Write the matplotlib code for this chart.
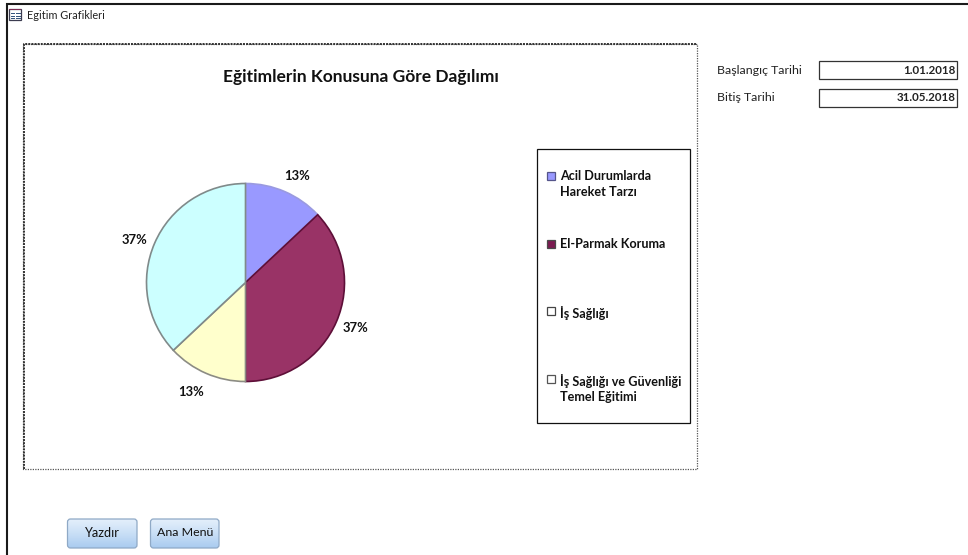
import numpy as np
import matplotlib
matplotlib.use("Agg")
import matplotlib.pyplot as plt
from matplotlib.patches import Rectangle, FancyBboxPatch
from matplotlib.colors import LinearSegmentedColormap

plt.rcParams['font.family'] = ['Lato', 'Open Sans', 'DejaVu Sans']

# chart data
topics = ["Acil Durumlarda\nHareket Tarzı", "El-Parmak Koruma", "İş Sağlığı",
          "İş Sağlığı ve Güvenliği\nTemel Eğitimi"]
shares = [13, 37, 13, 37]
slice_colors = ["#9999ff", "#993366", "#ffffcc", "#ccffff"]
edge_colors = ["#9a9ae0", "#5e0f38", "#8c8c84", "#808a8a"]
swatch_colors = ["#9999ff", "#7a1a50", "#ffffff", "#ffffff"]
swatch_edges = ["#55558a", "#4a4a4a", "#444444", "#555555"]

window_title = "Egitim Grafikleri"
chart_title = "Eğitimlerin Konusuna Göre Dağılımı"
date_labels = ["Başlangıç Tarihi", "Bitiş Tarihi"]
date_values = ["1.01.2018", "31.05.2018"]
button_labels = ["Yazdır", "Ana Menü"]

W, H = 968, 555
fig = plt.figure(figsize=(W / 100, H / 100), dpi=100, facecolor="white")

# full size axes in pixel units for the form controls
bg = fig.add_axes([0, 0, 1, 1])
bg.set_axis_off()

# window border
bg.plot([7, 7, W], [H, 3.5, 3.5], color="#1a1a1a", lw=1.5, solid_joinstyle="miter")

# small form icon
bg.add_patch(Rectangle((9, 9), 12, 11, fc="white", ec="#3c3c50", lw=0.9))
bg.add_patch(Rectangle((9, 8.5), 12, 1.5, fc="#7a2a50", ec="none"))
for yy in (13, 15.5, 18):
    bg.plot([11, 14], [yy, yy], color="#30507a", lw=0.7)
    bg.plot([15.5, 19.5], [yy, yy], color="#30507a", lw=0.7)
bg.text(27, 15.5, window_title, fontsize=7.8, color="#222222", ha="left", va="center")

# dotted frame around the chart
bg.plot([23, 697, 697, 23, 23], [43.5, 43.5, 469, 469, 43.5],
        color="#555555", lw=0.9, ls=(0, (1, 1)))
bg.plot([23.5, 23.5, 697], [469, 43.5, 43.5], color="#333333", lw=1.4, ls=(0, (1, 0.6)))

bg.text(360.5, 77, chart_title, fontsize=12.55, fontweight="bold", color="#111111",
        ha="center", va="center")

# legend box, drawn by hand since the rows are spread over the box height
bg.add_patch(Rectangle((538.5, 150.5), 152, 273, fc="#9a9a9a", ec="none"))
bg.add_patch(Rectangle((537, 149), 152.5, 273.5, fc="white", ec="#111111", lw=0.9))
row_y = [176, 243.5, 311, 379]
for topic, color, edge, y in zip(topics, swatch_colors, swatch_edges, row_y):
    bg.add_patch(Rectangle((547, y - 4), 8, 8, fc=color, ec=edge, lw=0.9))
    bg.text(560, y - 5.5, topic, fontsize=9.05, fontweight="bold", color="#111111",
            ha="left", va="top", linespacing=1.38)

# date fields on the right
for label, value, y in zip(date_labels, date_values, [70, 97.5]):
    bg.text(717, y, label, fontsize=8.9, color="#222222", ha="left", va="center")
    bg.add_patch(Rectangle((819, y - 9), 138, 18, fc="white", ec="#333333", lw=0.9))
    bg.text(955.5, y, value, fontsize=8.3, fontweight="bold", color="#222222",
            ha="right", va="center")

# buttons with a vertical gradient
button_cmap = LinearSegmentedColormap.from_list("button", ["#e4effb", "#c9dff6", "#a9cbef"])
gradient = np.linspace(0, 1, 64).reshape(-1, 1)
for label, x0, x1, size in zip(button_labels, [67.5, 150.5], [137, 219], [9.2, 8.9]):
    box = FancyBboxPatch((x0 + 2, 521), x1 - x0 - 4, 25, boxstyle="round,pad=2,rounding_size=3",
                         fc="none", ec="#8fa9c6", lw=0.9, zorder=3)
    bg.add_patch(box)
    img = bg.imshow(gradient, extent=[x0, x1, 548, 519], cmap=button_cmap, aspect="auto", zorder=2)
    img.set_clip_path(box)
    bg.text((x0 + x1) / 2, 533, label, fontsize=size, color="#111111", ha="center", va="center", zorder=4)

bg.set_xlim(0, W)
bg.set_ylim(H, 0)

# pie chart
cx, cy, r = 245.5, 282.5, 99.5
ax = fig.add_axes([(cx - r) / W, (H - cy - r) / H, 2 * r / W, 2 * r / H])
wedges, _, pct = ax.pie(shares, colors=slice_colors, startangle=90, counterclock=False,
                        autopct="%.0f%%", pctdistance=1.2, radius=1,
                        wedgeprops={"linewidth": 1.2})
for w, edge in zip(wedges, edge_colors):
    w.set_edgecolor(edge)

# nudge the percent labels away from the slice midlines
label_nudge = [(0.045, -0.025), (0.005, 0.02), (-0.07, 0.0), (-0.02, -0.05)]
for t, (dx, dy) in zip(pct, label_nudge):
    x, y = t.get_position()
    t.set_position((x + dx, y + dy))
    t.set_fontsize(9.4)
    t.set_fontweight("bold")
    t.set_color("#111111")
    t.set_clip_on(False)
ax.set_xlim(-1.005, 1.005)
ax.set_ylim(-1.005, 1.005)

plt.savefig("out.png", dpi=100)
